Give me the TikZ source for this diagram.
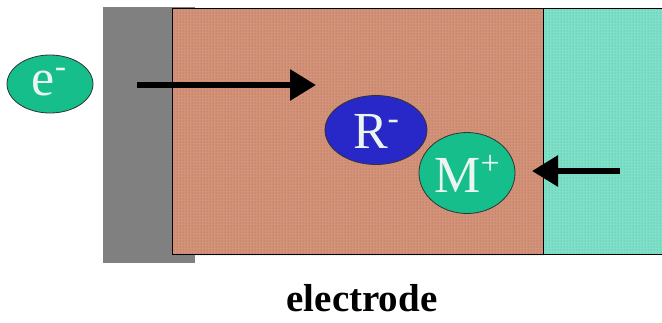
\documentclass[tikz,border=0pt]{standalone}
\usepackage{fontspec}
\setmainfont{Liberation Serif}
\usetikzlibrary{arrows.meta,patterns,shapes.geometric}
\definecolor{brownfill}{RGB}{212,146,120}
\definecolor{tealfill}{RGB}{125,224,200}
\definecolor{grayfill}{RGB}{128,128,128}
\definecolor{ionteal}{RGB}{22,190,140}
\definecolor{ionblue}{RGB}{40,40,200}
\definecolor{iontext}{RGB}{235,245,240}
\newcommand{\ionsup}[1]{\raisebox{0.36em}{\fontsize{34}{34}\selectfont #1}}
\begin{document}
\begin{tikzpicture}[x=1pt,y=-1pt,
  ion/.style={ellipse,draw=black!80,line width=0.8pt,inner sep=0pt},
  iontxt/.style={text=iontext,font=\fontsize{52}{52}\selectfont,inner sep=0pt},
  bigarrow/.style={line width=6pt,-{Triangle[length=26pt,width=30pt]}}]
\useasboundingbox (0,0) rectangle (662,322);
% current collector
\fill[grayfill] (103,7) rectangle (195,263);
% electrode
\node[draw=black,line width=1pt,fill=brownfill,minimum width=371pt,minimum height=246pt,inner sep=0pt,anchor=north west] (electrode) at (172,8) {};
\fill[pattern=dots,pattern color=brownfill!70!black] (electrode.north west) rectangle (electrode.south east);
% electrolyte
\fill[tealfill] (543,8) rectangle (662,254);
\fill[pattern=dots,pattern color=tealfill!75!black] (543,8) rectangle (662,254);
\draw[line width=1pt] (662,8) -- (543,8) -- (543,254) -- (662,254);
% ions
\node[ion,fill=ionteal,minimum width=86pt,minimum height=58pt] (e) at (50,84) {};
\node[iontxt] (et) at (49,82) {e\ionsup{-}};
\node[ion,fill=ionblue,minimum width=102pt,minimum height=69pt] (R) at (376,130) {};
\node[iontxt] (Rt) at (376,131) {R\ionsup{-}};
\node[ion,fill=ionteal,minimum width=96pt,minimum height=81pt] (M) at (467,173) {};
\node[iontxt] (Mt) at (467,174) {M\ionsup{+}};
% arrows
\coordinate (a1s) at (137,85);
\coordinate (a1e) at (316,85);
\coordinate (a2s) at (620,171);
\coordinate (a2e) at (532,171);
\draw[bigarrow] (a1s) -- (a1e);
\draw[bigarrow] (a2s) -- (a2e);
% label
\node[font=\fontsize{39}{39}\selectfont\bfseries,anchor=base,inner sep=0pt] (lbl) at (362,311) {electrode};
\end{tikzpicture}
\end{document}
